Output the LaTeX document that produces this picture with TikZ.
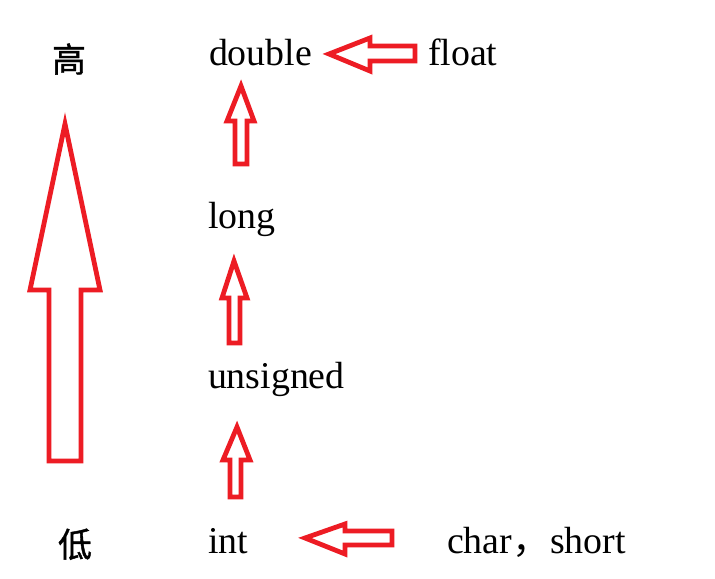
\documentclass[tikz,border=0pt]{standalone}
\usepackage{fontspec}
\setmainfont{Liberation Serif}
\newfontfamily\cjk[FakeBold=1.2]{Noto Sans CJK SC}
\newfontfamily\cjkpunct{Noto Sans CJK SC}
\definecolor{paintred}{HTML}{ED1C24}
\tikzset{
  word/.style={inner sep=0pt, outer sep=0pt, font=\fontsize{38}{40}\selectfont},
  hanzi/.style={inner sep=0pt, outer sep=0pt, font=\cjk\fontsize{34}{36}\selectfont},
  blockarrow/.style={draw=paintred, line width=4.8bp, line join=miter, fill=none}
}
\begin{document}
\begin{tikzpicture}[x=1bp, y=-1bp]
\useasboundingbox (0,0) rectangle (715,579);
\fill[white] (0,0) rectangle (715,579);
% text
\node[hanzi, anchor=base] (hi) at (69,72) {高};
\node[hanzi, anchor=base] (lo) at (75,557) {低};
\node[word, anchor=base west] (double) at (209,66) {double};
\node[word, anchor=base west] (float) at (428,66) {float};
\node[word, anchor=base west] (long) at (208,228) {long};
\node[word, anchor=base west] (unsigned) at (208,388) {unsigned};
\node[word, anchor=base west] (int) at (208,553) {int};
\node[word, anchor=base west] (charshort) at (447,553) {char{\cjkpunct ，}short};
% big arrow low -> high
\draw[blockarrow] (65,124) -- (100,290) -- (81,290) -- (81,461) -- (49,461) -- (49,290) -- (30,290) -- cycle;
% long -> double
\draw[blockarrow] (241,86) -- (254,121) -- (247,121) -- (247,164) -- (235,164) -- (235,121) -- (227,121) -- cycle;
% unsigned -> long
\draw[blockarrow] (234,261) -- (247,298) -- (240,298) -- (240,343) -- (229,343) -- (229,298) -- (222,298) -- cycle;
% int -> unsigned
\draw[blockarrow] (237,427) -- (250,460) -- (241,460) -- (241,497) -- (230,497) -- (230,460) -- (223,460) -- cycle;
% float -> double
\draw[blockarrow] (329,54) -- (370,38) -- (370,46) -- (415,46) -- (415,61) -- (370,61) -- (370,71) -- cycle;
% char,short -> int
\draw[blockarrow] (305,538) -- (345,524) -- (345,531) -- (392,531) -- (392,545) -- (345,545) -- (345,554) -- cycle;
\end{tikzpicture}
\end{document}
